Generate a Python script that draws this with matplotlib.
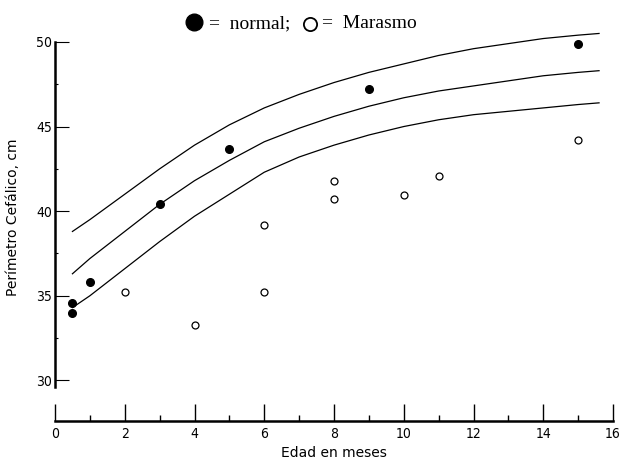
import matplotlib
matplotlib.use("Agg")
import matplotlib.pyplot as plt
from matplotlib.lines import Line2D
from matplotlib.ticker import MultipleLocator

# growth reference curves (age in months, head circumference in cm)
curve_age = [0.5, 1, 2, 3, 4, 5, 6, 7, 8, 9, 10, 11, 12, 13, 14, 15, 15.6]
upper_curve = [38.8, 39.5, 41.0, 42.5, 43.9, 45.1, 46.1, 46.9, 47.6, 48.2, 48.7, 49.2, 49.6, 49.9, 50.2, 50.4, 50.5]
middle_curve = [36.3, 37.2, 38.8, 40.4, 41.8, 43.0, 44.1, 44.9, 45.6, 46.2, 46.7, 47.1, 47.4, 47.7, 48.0, 48.2, 48.3]
lower_curve = [34.3, 35.0, 36.6, 38.2, 39.7, 41.0, 42.3, 43.2, 43.9, 44.5, 45.0, 45.4, 45.7, 45.9, 46.1, 46.3, 46.4]

# observed children
normal_age = [0.5, 0.5, 1, 3, 5, 9, 15]
normal_pc = [34.6, 34.0, 35.8, 40.4, 43.7, 47.2, 49.9]
marasmo_age = [2, 4, 6, 6, 8, 8, 10, 11, 15]
marasmo_pc = [35.2, 33.3, 39.2, 35.2, 41.8, 40.7, 40.95, 42.1, 44.2]

W, H = 622, 461
sans = ["DejaVu Sans"]
serif = ["Liberation Serif", "DejaVu Serif"]

fig = plt.figure(figsize=(W / 100, H / 100), dpi=100)
ax = fig.add_axes([55 / W, 40 / H, 558 / W, 396 / H])

for ys in (upper_curve, middle_curve, lower_curve):
    ax.plot(curve_age, ys, color="black", lw=0.9)

ax.plot(normal_age, normal_pc, "o", color="black", ms=5.5, zorder=3)
ax.plot(marasmo_age, marasmo_pc, "o", mfc="white", mec="black", mew=0.9, ms=5, zorder=3)

ax.set_xlim(0, 16)
ax.set_ylim(27.6, 51)

for s in ("top", "right"):
    ax.spines[s].set_visible(False)
ax.spines["left"].set_bounds(29.6, 50)
ax.spines["left"].set_linewidth(1.8)
ax.spines["bottom"].set_linewidth(1.8)

ax.xaxis.set_major_locator(MultipleLocator(2))
ax.xaxis.set_minor_locator(MultipleLocator(1))
ax.yaxis.set_minor_locator(MultipleLocator(2.5))
ax.set_yticks([30, 35, 40, 45, 50])

ax.tick_params(axis="x", which="major", direction="in", length=12, width=1, pad=4, labelsize=10)
ax.tick_params(axis="x", which="minor", direction="in", length=4, width=1)
ax.tick_params(axis="y", which="major", direction="in", length=10, width=0.8, pad=2, labelsize=10)
ax.tick_params(axis="y", which="minor", direction="in", length=2, width=0.8)
for lab in ax.get_xticklabels() + ax.get_yticklabels():
    lab.set_family(sans)
    lab.set_fontstretch("condensed")

ax.set_xlabel("Edad en meses", fontsize=10, family=sans, labelpad=4)
ax.set_ylabel("Perímetro Cefálico, cm", fontsize=10, family=sans)
ax.yaxis.set_label_coords(-0.062, 0.515)

# key line at the top
base = 1 - 28 / H
fig.add_artist(Line2D([193.5 / W], [1 - 22 / H], marker="o", color="black", ms=12,
                      transform=fig.transFigure))
fig.add_artist(Line2D([310 / W], [1 - 24.5 / H], marker="o", mfc="white", mec="black",
                      mew=1.3, ms=9.5, transform=fig.transFigure))
fig.text(209 / W, base, "=  normal;", ha="left", va="baseline", fontsize=14, family=serif)
fig.text(322 / W, base, "=  Marasmo", ha="left", va="baseline", fontsize=14, family=serif)

fig.savefig("out.png", dpi=100)
